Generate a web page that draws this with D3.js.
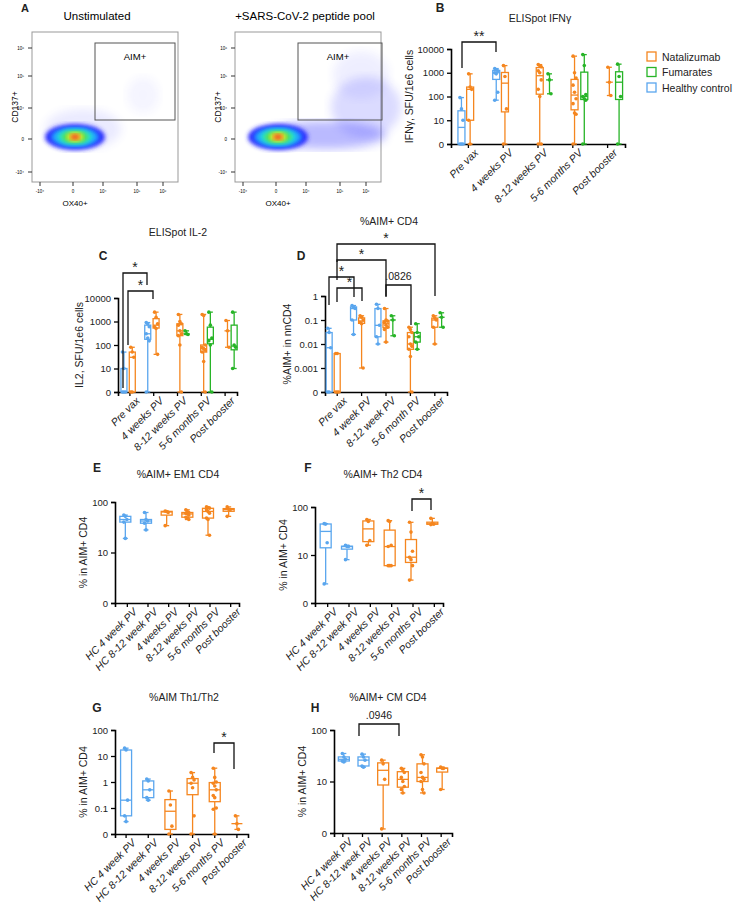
<!DOCTYPE html>
<html><head><meta charset="utf-8">
<script src="https://cdn.jsdelivr.net/npm/d3@7"></script>
<style>body{margin:0;background:#fff}text{font-family:"Liberation Sans",Arial,sans-serif}</style>
</head><body><svg id="c" width="735" height="916"></svg>
<script>
// series colours
const colors = { HC: '#5aa6ee', Nat: '#f5861f', Fum: '#27b427' };
const legendItems = [['Natalizumab', 'Nat'], ['Fumarates', 'Fum'], ['Healthy control', 'HC']];

// categories
const catsBC = ['Pre vax', '4 weeks PV', '8-12 weeks PV', '5-6 months PV', 'Post booster'];
const catsD = ['Pre vax', '4 week PV', '8-12 week PV', '5-6 month PV', 'Post booster'];
const catsEH = ['HC 4 week PV', 'HC 8-12 week PV', '4 weeks PV', '8-12 weeks PV', '5-6 months PV', 'Post booster'];

// [category index, series, values]
const dataB = [
  [0, 'HC', [90, 30, 10, 0, 0, 0]], [0, 'Nat', [900, 250, 200, 10, 0]],
  [1, 'HC', [1500, 1300, 1200, 1000, 900, 150, 70]], [1, 'Nat', [2000, 700, 30, 0]],
  [2, 'Nat', [2200, 2000, 1800, 1200, 1000, 500, 200, 100, 0, 0]], [2, 'Fum', [900, 500, 130]],
  [3, 'Nat', [5000, 1000, 600, 300, 150, 80, 50, 20, 18, 0]], [3, 'Fum', [5800, 2000, 120, 100, 80, 70, 0]],
  [4, 'Nat', [1700, 400, 110]], [4, 'Fum', [2300, 700, 100, 0]]
];
const dataC = [
  [0, 'HC', [50, 10, 0, 0, 0]], [0, 'Nat', [80, 50, 30, 0, 0]],
  [1, 'HC', [900, 800, 600, 300, 200, 150, 0]], [1, 'Nat', [2500, 1500, 800, 600, 500, 40]],
  [2, 'Nat', [2000, 1000, 800, 700, 400, 300, 250, 100, 0]], [2, 'Fum', [400, 300, 280]],
  [3, 'Nat', [2000, 1800, 100, 80, 70, 60, 50, 20, 0]], [3, 'Fum', [2500, 700, 200, 150, 100, 0]],
  [4, 'Nat', [1100, 400, 80]], [4, 'Fum', [2500, 100, 80, 10]]
];
const dataD = [
  [0, 'HC', [0.045, 0.03, 0.007, 0, 0]], [0, 'Nat', [0.004, 0.004, 0, 0, 0]],
  [1, 'HC', [0.4, 0.35, 0.3, 0.1, 0.025]], [1, 'Nat', [0.15, 0.13, 0.1, 0.08, 0.07, 0.001]],
  [2, 'HC', [0.45, 0.3, 0.06, 0.02, 0.01]], [2, 'Nat', [0.3, 0.1, 0.09, 0.08, 0.06, 0.05, 0.04, 0.012]], [2, 'Fum', [0.15, 0.1, 0.022]],
  [3, 'Nat', [0.05, 0.04, 0.03, 0.02, 0.01, 0.008, 0.006, 0.003, 0]], [3, 'Fum', [0.07, 0.03, 0.02, 0.012, 0.006]],
  [4, 'Nat', [0.15, 0.12, 0.1, 0.05, 0.01]], [4, 'Fum', [0.2, 0.13, 0.05]]
];
const dataE = [
  [0, 'HC', [55, 52, 45, 40, 19]], [1, 'HC', [62, 45, 42, 38, 28]],
  [2, 'Nat', [66, 65, 62, 34]], [3, 'Nat', [70, 65, 62, 60, 58, 55, 50, 48, 45]],
  [4, 'Nat', [80, 78, 75, 70, 65, 60, 48, 45, 22]], [5, 'Nat', [80, 72, 70, 52]]
];
const dataF = [
  [0, 'HC', [45, 44, 18, 2.5]], [1, 'HC', [16, 15, 15, 8]],
  [2, 'Nat', [55, 50, 20, 16]], [3, 'Nat', [52, 50, 16, 15, 6, 6, 6]],
  [4, 'Nat', [48, 30, 12, 9, 8, 6, 3]], [5, 'Nat', [58, 45, 44, 43]]
];
const dataG = [
  [0, 'HC', [20, 17, 0.2, 0.05, 0.03]], [1, 'HC', [1.3, 1.1, 0.5, 0.25, 0.2]],
  [2, 'Nat', [0.45, 0.13, 0.02, 0]], [3, 'Nat', [2.3, 1.5, 1.2, 0.9, 0.6, 0.05, 0]],
  [4, 'Nat', [3.4, 1.5, 1, 0.9, 0.7, 0.5, 0.3, 0.25, 0.1, 0.09, 0]], [5, 'Nat', [0.05, 0.025, 0.015]]
];
const dataH = [
  [0, 'HC', [35, 30, 27, 25, 24]], [1, 'HC', [34, 30, 26, 20, 19]],
  [2, 'Nat', [26, 22, 11, 1.2]], [3, 'Nat', [18, 17, 15, 12, 10, 8, 7, 6]],
  [4, 'Nat', [33, 30, 22, 15, 12, 11, 10, 7, 6]], [5, 'Nat', [19, 18, 18, 7]]
];

const svg = d3.select('#c');

function txt(x, y, s, o = {}) {
  return svg.append('text').attr('x', x).attr('y', y).text(s)
    .attr('font-size', o.size || 10).attr('text-anchor', o.anchor || 'middle')
    .attr('font-weight', o.bold ? 'bold' : null).attr('fill', '#222')
    .attr('font-family', o.family || null);
}

// //////////////////////////////////////////////////////////////////////////
// Box plot panel
function panel(p) {
  const g = svg.append('g');
  const y = d3.scaleLog().domain([p.zero, p.ticks[p.ticks.length - 1]]).range([p.yZero, p.yTop]);
  const yv = (v) => y(v <= 0 ? p.zero : v);
  const x = d3.scaleBand().domain(d3.range(p.cats.length)).range([p.x0, p.x1]);
  const off = { HC: p.offHC || 0, Nat: p.offNat || 0, Fum: p.offFum || 0 };

  // axes
  const ya = g.append('g').attr('transform', `translate(${p.x0},0)`)
    .call(d3.axisLeft(y).tickValues([p.zero, ...p.ticks]).tickFormat((d, i) => i === 0 ? '0' : d3.format('~g')(d)).tickSize(4));
  const xa = g.append('g').attr('transform', `translate(0,${p.yZero})`)
    .call(d3.axisBottom(x).tickSize(4).tickFormat((i) => p.cats[i]));
  [ya, xa].forEach((a) => {
    a.select('.domain').attr('stroke-width', 1.6);
    a.selectAll('.tick line').attr('stroke-width', 1.3);
    a.selectAll('text').attr('font-size', 9.5).attr('fill', '#222').attr('font-family', '"Liberation Sans",Arial');
  });
  xa.selectAll('text').attr('font-size', 10.5);
  xa.selectAll('.tick').attr('transform', (i) => `translate(${x(i) + x.bandwidth() / 2 + (p.tickOff || 0)},0)`);
  xa.selectAll('text').attr('text-anchor', 'end').attr('font-style', 'italic')
    .attr('transform', 'translate(4,3) rotate(-45)').attr('dy', '0.3em').attr('dx', 0).attr('y', 6);

  // boxes
  p.data.forEach(([ci, s, vals]) => {
    const cx = x(ci) + x.bandwidth() / 2 + off[s] * x.bandwidth();
    const srt = vals.slice().sort(d3.ascending);
    const q1 = d3.quantile(srt, 0.25), md = d3.median(srt), q3 = d3.quantile(srt, 0.75);
    const c = colors[s], w = p.bw;
    const gg = g.append('g').attr('stroke', c).attr('fill', 'none').attr('stroke-width', 1.3);
    gg.append('line').attr('x1', cx).attr('x2', cx).attr('y1', yv(srt[0])).attr('y2', yv(srt[srt.length - 1]));
    [srt[0], srt[srt.length - 1]].forEach((v) => gg.append('line').attr('x1', cx - 2.5).attr('x2', cx + 2.5).attr('y1', yv(v)).attr('y2', yv(v)));
    if (vals.length > 3) gg.append('rect').attr('x', cx - w / 2).attr('width', w).attr('y', yv(q3)).attr('height', Math.max(0.5, yv(q1) - yv(q3))).attr('fill', '#fff');
    gg.append('line').attr('x1', cx - w / 2).attr('x2', cx + w / 2).attr('y1', yv(md)).attr('y2', yv(md));
    g.append('g').selectAll('circle').data(vals).join('circle')
      .attr('cx', (d, i) => cx + ((i % 3) - 1) * 1.5).attr('cy', (d) => yv(d)).attr('r', 1.8).attr('fill', c);
  });

  // labels
  txt(p.titleX || (p.x0 + p.x1) / 2, p.titleY, p.title, { size: 10.5 });
  txt(p.letterX, p.letterY, p.letter, { size: 12, bold: true });
  svg.append('text').attr('transform', `translate(${p.x0 - p.ylabOff},${(p.yTop + p.yZero) / 2}) rotate(-90)`)
    .attr('text-anchor', 'middle').attr('font-size', 10.5).attr('fill', '#222').text(p.ylab);

  // significance brackets [x1, x2, yTop, leg1 bottom, leg2 bottom, label]
  (p.brackets || []).forEach(([a, b, yt, l1, l2, lab]) => {
    g.append('path').attr('d', `M${a},${l1}V${yt}H${b}V${l2}`).attr('fill', 'none').attr('stroke', '#111').attr('stroke-width', 1.3);
    const star = lab.startsWith('*');
    txt((a + b) / 2, yt - (star ? 1 : 5), lab, { size: star ? 14 : 10.5 });
  });
}

panel({ cats: catsBC, data: dataB, x0: 451, x1: 625, yTop: 49, yZero: 144, zero: 1, ticks: [10, 100, 1000, 10000],
  bw: 7, offHC: -0.2, offNat: 0.05, offFum: 0.33, title: 'ELISpot IFNγ', titleY: 22, titleX: 540,
  letter: 'B', letterX: 440, letterY: 12, ylab: 'IFNγ, SFU/1e6 cells', ylabOff: 38,
  brackets: [[462, 496, 42, 68, 52, '**']] });

panel({ cats: catsBC, data: dataC, x0: 118, x1: 237, yTop: 298, yZero: 392, zero: 1, ticks: [10, 100, 1000, 10000],
  bw: 6, offHC: -0.25, offNat: 0.1, offFum: 0.38, title: 'ELISpot IL-2', titleY: 236, titleX: 178,
  letter: 'C', letterX: 103, letterY: 260, ylab: 'IL2, SFU/1e6 cells', ylabOff: 35,
  brackets: [[123, 147, 273, 388, 285, '*'], [128, 153, 291, 345, 299, '*']] });

panel({ cats: catsD, data: dataD, x0: 325, x1: 447, yTop: 296, yZero: 392, zero: 0.0001, ticks: [0.001, 0.01, 0.1, 1],
  bw: 6, offHC: -0.33, offNat: 0, offFum: 0.28, title: '%AIM+ CD4', titleY: 225, titleX: 389,
  letter: 'D', letterX: 301, letterY: 260, ylab: '%AIM+ in nnCD4', ylabOff: 34,
  brackets: [[329, 354, 277, 305, 297, '*'], [337, 362, 288, 302, 301, '*'], [337, 386, 260, 280, 296, '*'],
    [337, 435, 244, 262, 296, '*'], [386, 411, 285, 297, 325, '.0826']] });

panel({ cats: catsEH, data: dataE, x0: 115, x1: 239, yTop: 502, yZero: 603, zero: 1, ticks: [10, 100],
  bw: 11, tickOff: 2, title: '%AIM+ EM1 CD4', titleY: 478, titleX: 178,
  letter: 'E', letterX: 97, letterY: 472, ylab: '% in AIM+ CD4', ylabOff: 28 });

panel({ cats: catsEH, data: dataF, x0: 315, x1: 443, yTop: 507, yZero: 603, zero: 1, ticks: [10, 100],
  bw: 11, tickOff: 2, title: '%AIM+ Th2 CD4', titleY: 478, titleX: 383,
  letter: 'F', letterX: 308, letterY: 472, ylab: '% in AIM+ CD4', ylabOff: 28,
  brackets: [[412, 431, 499, 511, 510, '*']] });

panel({ cats: catsEH, data: dataG, x0: 115, x1: 248, yTop: 730, yZero: 834, zero: 0.01, ticks: [0.1, 1, 10, 100],
  bw: 11, tickOff: 0, title: '%AIM Th1/Th2', titleY: 701, titleX: 184,
  letter: 'G', letterX: 97, letterY: 712, ylab: '% in AIM+ CD4', ylabOff: 28,
  brackets: [[214, 234, 743, 753, 769, '*']] });

panel({ cats: catsEH, data: dataH, x0: 334, x1: 452, yTop: 730, yZero: 833, zero: 1, ticks: [10, 100],
  bw: 11, tickOff: -1, title: '%AIM+ CM CD4', titleY: 701, titleX: 388,
  letter: 'H', letterX: 315, letterY: 712, ylab: '% in AIM+ CD4', ylabOff: 28,
  brackets: [[359, 399, 724, 736, 736, '.0946']] });

// legend
legendItems.forEach(([lab, s], i) => {
  const yy = 57 + i * 15.5;
  svg.append('rect').attr('x', 647).attr('y', yy - 5).attr('width', 9).attr('height', 9)
    .attr('fill', 'none').attr('stroke', colors[s]).attr('stroke-width', 1.3);
  txt(662, yy + 3.5, lab, { size: 10.5, anchor: 'start' });
});

// //////////////////////////////////////////////////////////////////////////
// Panel A: flow plots
const flowTicksY = [['10⁶', 48], ['10⁵', 76], ['10⁴', 108], ['0', 139], ['-10⁴', 172]];
const flowTicksX = [['-10⁴', 8], ['0', 41], ['10⁴', 71], ['10⁵', 105], ['10⁶', 131]];
// density layers [rx, ry, colour] around the population centre
const blobLayers = [[30, 13, '#2b2bff'], [24, 10, '#21a0ff'], [18, 8, '#20e0d0'], [13, 6, '#5fe04a'], [8, 4.5, '#f2e629'], [4.5, 2.8, '#f04020']];
// activated cloud ellipses per plot [cx offset, cy offset, rx, ry, opacity]
const cloudA1 = [[10, -8, 38, 20, 0.1], [70, -42, 16, 18, 0.05]];
const cloudA2 = [[50, -2, 60, 14, 0.35], [90, -30, 35, 30, 0.18], [85, -62, 28, 24, 0.08]];

const defs = svg.append('defs');
defs.append('filter').attr('id', 'blur').append('feGaussianBlur').attr('stdDeviation', 2);
defs.append('filter').attr('id', 'blur2').append('feGaussianBlur').attr('stdDeviation', 5);

function flow(ox, title, titleX, cloud, gateR) {
  const g = svg.append('g').attr('transform', `translate(${ox},0)`);
  g.append('rect').attr('x', 32).attr('y', 32).attr('width', 146).attr('height', 150).attr('fill', '#fff').attr('stroke', '#999');
  const cx = 73, cy = 137;
  cloud.forEach(([dx, dy, rx, ry, op]) => g.append('ellipse').attr('cx', cx + dx).attr('cy', cy + dy).attr('rx', rx).attr('ry', ry)
    .attr('fill', '#3a3aff').attr('opacity', op).attr('filter', 'url(#blur2)'));
  blobLayers.forEach(([rx, ry, c]) => g.append('ellipse').attr('cx', cx + 2).attr('cy', cy).attr('rx', rx).attr('ry', ry)
    .attr('fill', c).attr('filter', 'url(#blur)'));
  g.append('rect').attr('x', 95).attr('y', 43).attr('width', gateR - 95).attr('height', 77).attr('fill', 'none').attr('stroke', '#555').attr('stroke-width', 1);
  g.append('text').attr('x', 135).attr('y', 60).attr('text-anchor', 'middle').attr('font-size', 9.5).attr('font-family', '"Open Sans"').text('AIM+');
  flowTicksY.forEach(([l, yy]) => {
    g.append('line').attr('x1', 28).attr('x2', 32).attr('y1', yy).attr('y2', yy).attr('stroke', '#333');
    g.append('text').attr('x', 24).attr('y', yy + 2).attr('text-anchor', 'end').attr('font-size', 4.5).text(l);
  });
  flowTicksX.forEach(([l, xx]) => {
    g.append('line').attr('x1', xx + 32).attr('x2', xx + 32).attr('y1', 182).attr('y2', 186).attr('stroke', '#333');
    g.append('text').attr('x', xx + 32).attr('y', 193).attr('text-anchor', 'middle').attr('font-size', 4.5).text(l);
  });
  g.append('text').attr('x', 75).attr('y', 206).attr('text-anchor', 'middle').attr('font-size', 8).text('OX40+');
  g.append('text').attr('transform', 'translate(18,107) rotate(-90)').attr('text-anchor', 'middle').attr('font-size', 8.5)
    .attr('font-family', '"Open Sans"').text('CD137+');
  g.append('text').attr('x', titleX).attr('y', 20).attr('text-anchor', 'middle').attr('font-size', 11.5)
    .attr('font-family', '"Open Sans"').text(title);
}
flow(0, 'Unstimulated', 97, cloudA1, 175);
flow(203, '+SARS-CoV-2 peptide pool', 102, cloudA2, 179);
txt(25, 12, 'A', { size: 11, bold: true });
</script></body></html>
